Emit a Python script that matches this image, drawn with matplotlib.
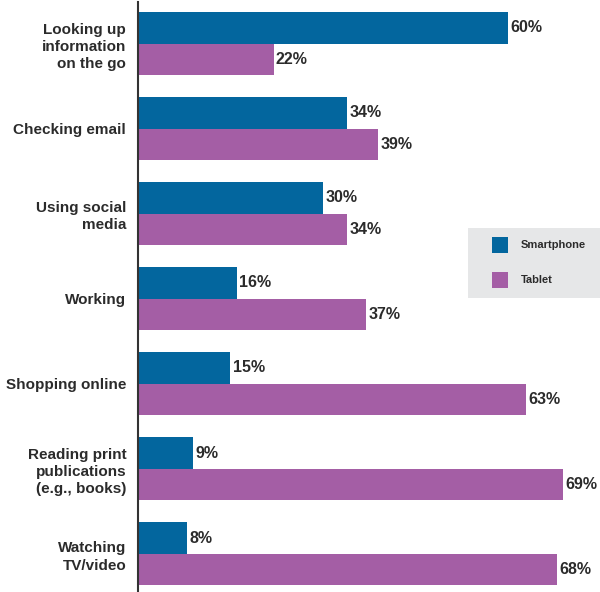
import numpy as np
import matplotlib
matplotlib.use("Agg")
import matplotlib.pyplot as plt
from matplotlib.patches import Rectangle

plt.rcParams['font.family'] = ['Liberation Sans', 'DejaVu Sans']

# --- Données ---
activites = ["Looking up\ninformation\non the go", "Checking email", "Using social\nmedia",
             "Working", "Shopping online", "Reading print\npublications\n(e.g., books)",
             "Watching\nTV/video"]
smartphone = [60, 34, 30, 16, 15, 9, 8]
tablette = [22, 39, 34, 37, 63, 69, 68]
series = ["Smartphone", "Tablet"]

bleu = "#03669E"
violet = "#A45EA5"
texte = "#2B2B2B"

fig = plt.figure(figsize=(6, 5.92), dpi=100)
ax = fig.add_axes([138 / 600, 0, 1 - 138 / 600, 590 / 592])

y = np.arange(len(activites))
h = 0.37
b1 = ax.barh(y - h / 2, smartphone, height=h, color=bleu)
b2 = ax.barh(y + h / 2, tablette, height=h, color=violet)

for barres, vals in ((b1, smartphone), (b2, tablette)):
    for r, v in zip(barres, vals):
        ax.text(r.get_width() + 0.4, r.get_y() + r.get_height() / 2, f"{v}%",
                va="center", ha="left", fontsize=11.5, fontweight="bold", color=texte)

ax.set_xlim(0, 462 / 6.16)
ax.set_ylim(6.45, -0.49)
ax.set_yticks(y)
ax.set_yticklabels(activites, fontsize=11, fontweight="bold", color=texte,
                   linespacing=1.3)
ax.tick_params(axis="y", length=0, pad=8.5)
ax.set_xticks([])
for s in ["top", "right", "bottom"]:
    ax.spines[s].set_visible(False)
ax.spines["left"].set_color("#333333")
ax.spines["left"].set_linewidth(1.5)

# --- Légende ---
fig.patches.append(Rectangle((468 / 600, 1 - 298 / 592), 132 / 600, 70 / 592,
                             transform=fig.transFigure, facecolor="#E6E7E8",
                             edgecolor="none", zorder=0))
for i, (nom, col) in enumerate(zip(series, [bleu, violet])):
    top = 237 + i * 35
    fig.patches.append(Rectangle((492 / 600, 1 - (top + 16) / 592), 16 / 600, 16 / 592,
                                 transform=fig.transFigure, facecolor=col,
                                 edgecolor="none", zorder=1))
    fig.text(521 / 600, 1 - (top + 8) / 592, nom, va="center", ha="left",
             fontsize=8, fontweight="bold", color=texte)

fig.savefig("out.png", dpi=100)
